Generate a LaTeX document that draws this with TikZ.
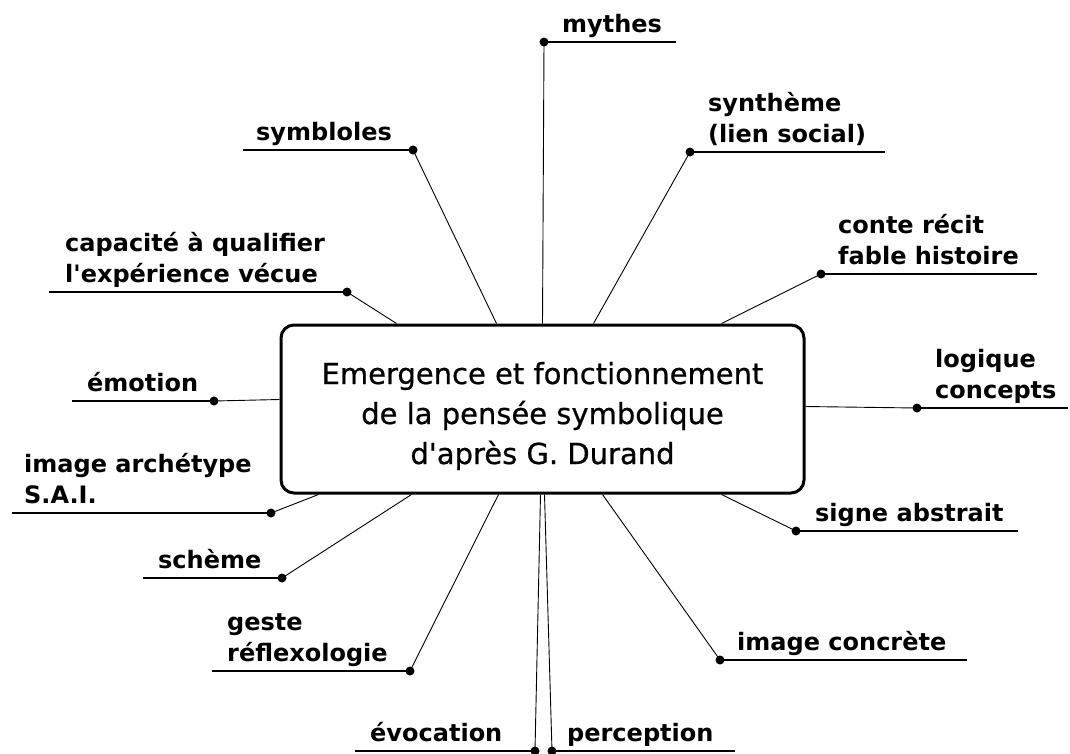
\documentclass[tikz,border=0pt]{standalone}
\usepackage{fontspec}
\usepackage{tikz}
\usetikzlibrary{positioning,calc}
\newfontfamily\dejavu{DejaVu Sans}
\newfontfamily\dejavugras[FakeBold=0.7]{DejaVu Sans}
\newcommand{\etiqfont}{\dejavu\bfseries\fontsize{24}{31}\selectfont}
\newcommand{\titrefont}{\dejavugras\fontsize{29}{40}\selectfont}

\begin{document}
\begin{tikzpicture}[
        x=1pt, y=-1pt,
        cadre/.style={draw, line width=3pt, rounded corners=13pt, minimum width=523pt, minimum height=168pt, inner sep=0pt},
        titre/.style={font=\titrefont, align=center, inner sep=0pt},
        etiquette/.style={font=\etiqfont, align=left, anchor=south west, inner sep=0pt, text depth=6pt},
        point/.style={circle, fill, inner sep=0pt, minimum size=9pt},
        trait/.style={line width=1.3pt},
        lien/.style={line width=0.9pt}
    ]
        \useasboundingbox (0,0) rectangle (1070,753);

        % cadre central
        \node[cadre] (centre) at (542.5,409) {};
        \node[titre] (titre) at (542.5,416) {Emergence et fonctionnement\\de la pensée symbolique\\d'après G. Durand};

        % points d'attache sur le cadre
        \coordinate (c-mythes) at ($(centre.north west)+(263,0)$);
        \coordinate (c-synth) at ($(centre.north west)+(314,0)$);
        \coordinate (c-symb) at ($(centre.north west)+(217,0)$);
        \coordinate (c-conte) at ($(centre.north west)+(442,0)$);
        \coordinate (c-capa) at ($(centre.north west)+(117,0)$);
        \coordinate (c-emo) at ($(centre.north west)+(0,76)$);
        \coordinate (c-logi) at ($(centre.north east)+(0,83)$);
        \coordinate (c-arch) at ($(centre.south west)+(39,0)$);
        \coordinate (c-schem) at ($(centre.south west)+(132,0)$);
        \coordinate (c-geste) at ($(centre.south west)+(219,0)$);
        \coordinate (c-evoc) at ($(centre.south west)+(261,0)$);
        \coordinate (c-perc) at ($(centre.south west)+(265,0)$);
        \coordinate (c-concr) at ($(centre.south west)+(323,0)$);
        \coordinate (c-signe) at ($(centre.south west)+(442,0)$);

        % branches du haut
        \node[point] (p-mythes) at (544,42) {};
        \coordinate (f-mythes) at (676,42);
        \node[etiquette] (mythes) at (562,39) {mythes};

        \node[point] (p-synth) at (690,152) {};
        \coordinate (f-synth) at (885,152);
        \node[etiquette] (synth) at (708,149) {synthème\\(lien social)};

        \node[point] (p-symb) at (413,150) {};
        \coordinate (f-symb) at (243,150);
        \node[etiquette] (symb) at (256,147) {symbloles};

        \node[point] (p-conte) at (821,274) {};
        \coordinate (f-conte) at (1037,274);
        \node[etiquette] (conte) at (838,271) {conte récit\\fable histoire};

        \node[point] (p-capa) at (347,292) {};
        \coordinate (f-capa) at (49,292);
        \node[etiquette] (capa) at (65,289) {capacité à qualifier\\l'expérience vécue};

        % branches des côtés
        \node[point] (p-emo) at (214,401) {};
        \coordinate (f-emo) at (72,401);
        \node[etiquette] (emo) at (87,398) {émotion};

        \node[point] (p-logi) at (917,408) {};
        \coordinate (f-logi) at (1068,408);
        \node[etiquette] (logi) at (935,405) {logique\\concepts};

        % branches du bas
        \node[point] (p-arch) at (271,513) {};
        \coordinate (f-arch) at (12,513);
        \node[etiquette] (arch) at (24,510) {image archétype\\S.A.I.};

        \node[point] (p-schem) at (282,578) {};
        \coordinate (f-schem) at (143,578);
        \node[etiquette] (schem) at (158,575) {schème};

        \node[point] (p-geste) at (410,671) {};
        \coordinate (f-geste) at (212,671);
        \node[etiquette] (geste) at (227,668) {geste\\réflexologie};

        \node[point] (p-evoc) at (535,751) {};
        \coordinate (f-evoc) at (355,751);
        \node[etiquette] (evoc) at (370,748) {évocation};

        \node[point] (p-perc) at (552,751) {};
        \coordinate (f-perc) at (735,751);
        \node[etiquette] (perc) at (567,748) {perception};

        \node[point] (p-concr) at (720,660) {};
        \coordinate (f-concr) at (967,660);
        \node[etiquette] (concr) at (737,657) {image concrète};

        \node[point] (p-signe) at (796,531) {};
        \coordinate (f-signe) at (1018,531);
        \node[etiquette] (signe) at (815,528) {signe abstrait};

        % soulignements
        \foreach \b in {mythes,synth,symb,conte,capa,emo,logi,arch,schem,geste,evoc,perc,concr,signe}
            \draw[trait] (p-\b.center) -- (f-\b);

        % liens vers le cadre
        \foreach \b in {mythes,synth,symb,conte,capa,emo,logi,arch,schem,geste,evoc,perc,concr,signe}
            \draw[lien] (p-\b.center) -- (c-\b);
    \end{tikzpicture}
\end{document}
